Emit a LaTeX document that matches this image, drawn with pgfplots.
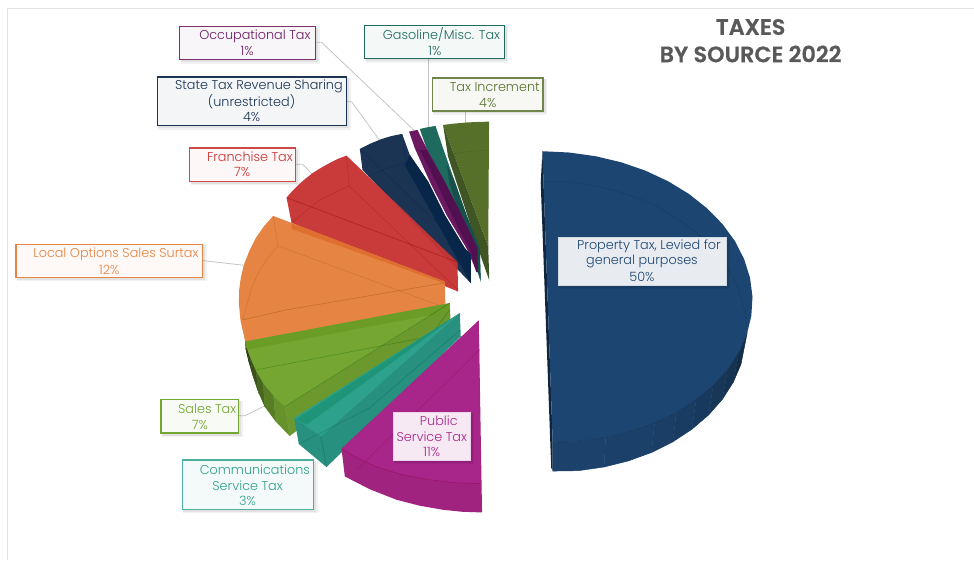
\documentclass[border=0pt]{standalone}
\usepackage{pgfplots}
\pgfplotsset{compat=1.18}
\usepackage{fontspec}
\setmainfont{Poppins Light}[BoldFont=Poppins SemiBold]
\newfontfamily\titlefont{Poppins SemiBold}[FakeBold=0.6]

% palette: slice faces, cut walls and label tints
\definecolor{propT}{HTML}{1D4571}
\definecolor{incT}{HTML}{56702A}
\definecolor{incD}{HTML}{3F5523}
\definecolor{gasT}{HTML}{1F6A5E}
\definecolor{gasD}{HTML}{16504A}
\definecolor{occT}{HTML}{6B1A62}
\definecolor{occD}{HTML}{521050}
\definecolor{navT}{HTML}{1B3454}
\definecolor{navD}{HTML}{08264A}
\definecolor{redT}{HTML}{C73434}
\definecolor{oraT}{HTML}{E58443}
\definecolor{oraB}{HTML}{DE6F2F}
\definecolor{greT}{HTML}{74A631}
\definecolor{greB}{HTML}{6B9C26}
\definecolor{teaT}{HTML}{2DA18B}
\definecolor{teaS}{HTML}{27907E}
\definecolor{teaB}{HTML}{1E9478}
\definecolor{magT}{HTML}{A8258A}
\definecolor{magS}{HTML}{A0237F}
\definecolor{leader}{HTML}{C4C4C4}
\definecolor{frameline}{HTML}{E4E4E4}
\definecolor{titlegray}{HTML}{595959}

% filled polygon, optional opacity
\newcommand{\face}[3][1]{\addplot[fill=#2,draw=none,fill opacity=#1,forget plot] coordinates {#3};}
% opaque rim strip, stroked in its own colour so neighbours close up
\newcommand{\rim}[2]{\addplot[fill=#1,draw=#1,line width=0.5pt,forget plot] coordinates {#2};}
% thin open line
\newcommand{\edge}[3][0.5]{\addplot[draw=#2,line width=0.5pt,draw opacity=#1,forget plot] coordinates {#3};}
% label box with soft shadow: border, fill, x1, y1, x2, y2
\newcommand{\lblbox}[6]{%
  \fill[black,opacity=0.05] (axis cs:#3+1,#4+1) rectangle (axis cs:#5+4,#6+4);
  \fill[black,opacity=0.07] (axis cs:#3+1,#4+1) rectangle (axis cs:#5+2.5,#6+2.5);
  \draw[draw=#1,fill=#2,line width=1.2pt] (axis cs:#3,#4) rectangle (axis cs:#5,#6);}
% one line of label text: colour, centre x, centre y, text
\newcommand{\lbl}[4]{\node[text=#1,inner sep=0pt,font=\fontsize{12.8}{14}\selectfont] at (axis cs:#2,#3) {#4};}

\begin{document}
\begin{tikzpicture}
\begin{axis}[
  at={(0pt,0pt)},anchor=south west,
  width=974pt,height=560pt,scale only axis,
  xmin=0,xmax=974,ymin=0,ymax=560,y dir=reverse,
  hide axis,clip=false]

% sheet outline
\addplot[draw=frameline,line width=1pt,forget plot] coordinates {(8,560)(8,8)(974,8)};

% leader lines
\addplot[draw=leader,line width=0.8pt,forget plot] coordinates {(316.7,42.3)(321.7,42.3)(416,132)};
\addplot[draw=leader,line width=0.8pt,forget plot] coordinates {(428.5,59)(428.5,130)};
\addplot[draw=leader,line width=0.8pt,forget plot] coordinates {(466,111)(466,125)};
\addplot[draw=leader,line width=0.8pt,forget plot] coordinates {(346.7,101.7)(351.7,101.7)(381,142)};
\addplot[draw=leader,line width=0.8pt,forget plot] coordinates {(296,164.3)(302.7,164.3)(316,178)};
\addplot[draw=leader,line width=0.8pt,forget plot] coordinates {(203,260.7)(245,265.5)};
\addplot[draw=leader,line width=0.8pt,forget plot] coordinates {(239,416)(245,416)(267,405)};

% Tax Increment
\face{incT}{(443.3,125)(454,123.7)(466,122.6)(478,122)(489.3,121.7)(488.5,247)}
\face{incD}{(443.3,125)(448.3,156.7)(480,253.3)(489.5,280.5)(488.5,247)}
\edge[0.4]{incD}{(447,155)(470,151.5)(489.5,150)}

% Gasoline / Misc. Tax
\face{gasT}{(420,129)(428,127.3)(435.7,126)(443.3,148.3)(455,181.7)(466.7,215)(480,248.3)(481,281.7)(478.3,272)(473.3,248.3)(455,215)(438.3,181.7)(426.7,148.3)}
\face{gasD}{(447,165)(455,181.7)(466.7,215)(480,248.3)(481,281.7)(478,272)(473,248)(460,215)(450,185)}
% Occupational Tax
\face{occT}{(409.3,131.7)(414,130.7)(417.7,130)(426.7,148.3)(445,181.7)(461.7,215)(477.7,248.3)(478,272.5)(476.7,272.3)(473.3,263.3)(466.7,248.3)(446.7,215)(430,181.7)(415,148.3)}
\face{occD}{(420,150)(426.7,150)(445,181.7)(461.7,215)(477.7,248.3)(478,272)(476.7,272)(470,250)(452,215)(436,181.7)}

% State Tax Revenue Sharing
\face{navT}{(360,149)(371,143.5)(382,139)(392,136)(402.3,134)(410,155)(428.3,181.7)(445,215)(465,248.3)(471,255)(471,283.3)(362.7,170)}
\face{navD}{(410,155)(428.3,181.7)(445,215)(465,248.3)(471,255)(471,283.3)(405,165)}
\edge[0.5]{navD}{(360,149)(471,255)}
\edge[0.5]{navD}{(402.3,134)(406,162.7)(385,169)(368.3,176.7)}

% Franchise Tax
\face[0.97]{redT}{(286.7,197.7)(292.5,191)(299,184.5)(306,178.5)(313,173)(321,168)(330,163)(338,159)(346.7,155.7)(457.7,262.3)(458.3,291.7)(291.7,223)}
\edge[0.45]{red!50!black}{(286.7,197.7)(457.7,262.3)}
\edge[0.25]{red!50!black}{(346.7,155.7)(349.3,186)(458,290)}
\edge[0.25]{red!50!black}{(349.3,186)(320,200)(291.7,223)}

% Local Options Sales Surtax
\face{oraT}{(273.3,216)(264,226.5)(256,238)(249.5,251)(244,265)(241,277.5)(239.3,290)(239,303)(240.5,320)(245.3,341.7)(247,350)(445.7,310)(445,281.7)}
\face{oraB}{(291.7,223.3)(443,281)(445,283.5)(291.7,229)}
\edge[0.25]{orange!60!black}{(273.3,216)(278.3,246)(443.3,307)}
\edge[0.25]{orange!60!black}{(278.3,246)(267,259)(258,274)(251,290)(246.7,306.7)(242.7,320)}
\edge[0.45]{orange!60!black}{(242.7,320)(286.7,310)(445,283)}

% Sales Tax: rim strips lighten from the left
\rim{greT!35!black}{(245.3,341.7)(247.5,349.5)(249,362)(245.7,348)}
\rim{greT!42!black}{(247.5,349.5)(250,356.7)(253.3,376.7)(249,362)}
\rim{greT!50!black}{(250,356.7)(256,370.5)(258.5,392)(253.3,376.7)}
\rim{greT!62!black}{(256,370.5)(263.3,383.3)(265,406.7)(258.5,392)}
\rim{greT!75!black}{(263.3,383.3)(273.5,395.5)(276,421.5)(265,406.7)}
\rim{greT!88!black}{(273.5,395.5)(285,406.7)(290,436)(276,421.5)}
\face{greT!92!black}{(285,406.7)(290,436)(450.7,320)(450,303.3)}
\face{greT}{(245.3,341.7)(247.5,349.5)(250,356.7)(256,370.5)(263.3,383.3)(273.5,395.5)(285,406.7)(450,303.3)}
\face{greB}{(245.3,341.7)(450,303.3)(449.3,311.7)(247,350)}
\edge[0.35]{green!35!black}{(256.7,370)(430,336.7)(450,310)}
\edge[0.45]{green!35!black}{(285,406.7)(450,303.3)}

% Communications Service Tax
\face{teaS}{(294.3,418.3)(299,444.3)(326.7,467.3)(461,336.7)(460,313.3)}
\face{teaT}{(294.3,418.3)(321,436.7)(460,313.3)}
\face{teaB}{(296,419.5)(306.7,425)(450.7,320)(451,319)}
\edge[0.4]{teal!60!black}{(321,436.7)(326.7,467.3)}
\edge[0.3]{teal!60!black}{(299,444.3)(370,408)(460.5,330)}

% Public Service Tax
\face{magS}{(341.7,449)(345,476.7)(370,489.5)(396.7,500)(420,506)(443,510)(462,512)(482.3,512.7)(479,320.7)}
\face{magT}{(341.7,449)(360,459.5)(380,468.3)(405,475.5)(430,480)(455,483)(480.7,484)(479,320.7)}
\edge[0.3]{purple!70!black}{(357,470)(480,350)}
\edge[0.4]{purple!70!black}{(341.7,449)(360,459.5)(380,468.3)(405,475.5)(430,480)(455,483)(480.7,484)}

% Property Tax: rim strips darken to the right, then cut wall and top face
\rim{propT!95!black}{(553,442.7)(579.8,441.4)(605.9,437.7)(604.4,467.2)(578.9,470.9)(553,471.3)}
\rim{propT!93!black}{(605.9,437.7)(631.1,431.6)(654.9,423.2)(651.9,452.7)(628.8,461.1)(604.4,467.2)}
\rim{propT!90!black}{(654.9,423.2)(676.7,412.6)(673.1,442.1)(651.9,452.7)}
\rim{propT!87!black}{(676.7,412.6)(696.5,400)(692.2,429.5)(673.1,442.1)}
\rim{propT!83!black}{(696.5,400)(713.6,385.7)(708.9,415.2)(692.2,429.5)}
\rim{propT!78!black}{(713.6,385.7)(728,369.9)(722.8,399.4)(708.9,415.2)}
\rim{propT!72!black}{(728,369.9)(739.2,352.8)(733.7,382.3)(722.8,399.4)}
\rim{propT!65!black}{(739.2,352.8)(747.2,334.7)(741.4,364.2)(733.7,382.3)}
\face{propT!55!black}{(542.7,151.3)(541,183)(551.5,468)(553,471.3)(553,442.7)}
\face{propT}{(542.7,151.3)(569.6,152.6)(595.9,156.3)(621.6,162.4)(645.9,170.8)(668.6,181.4)(689.2,194)(707.3,208.3)(722.8,224.1)(735.3,241.2)(744.5,259.3)(750.4,278)(752.9,297)(751.7,316)(747.2,334.7)(739.2,352.8)(728,369.9)(713.6,385.7)(696.5,400)(676.7,412.6)(654.9,423.2)(631.1,431.6)(605.9,437.7)(579.8,441.4)(553,442.7)}
\edge[0.5]{propT!60!black}{(553,442.7)(579.8,441.4)(605.9,437.7)(631.1,431.6)(654.9,423.2)(676.7,412.6)(696.5,400)(713.6,385.7)(728,369.9)(739.2,352.8)(747.2,334.7)}
\edge[0.3]{propT!60!black}{(542.7,182)(568.8,182.1)(594.4,185.8)(619.3,191.9)(642.9,200)(665,210.9)(685,223.7)(702.6,237.8)(717.3,253.6)(729.8,270.7)(738.6,288.8)(744.5,307.5)(746.9,326.5)}

% callouts
\lblbox{occT!90!white}{occT!4!white}{179.7}{26.7}{315.7}{59.7}
\lbl{occT}{255}{36}{Occupational Tax}
\lbl{occT}{247.3}{51}{1\%}

\lblbox{gasT}{gasT!5!white}{365}{25.3}{504.7}{58.7}
\lbl{gasT}{441.7}{35}{Gasoline/Misc. Tax}
\lbl{gasT}{435}{51}{1\%}

\lblbox{incT!85!white}{incT!5!white}{432.7}{78}{543.3}{111}
\lbl{incT}{495}{87}{Tax Increment}
\lbl{incT}{488}{103}{4\%}

\lblbox{navT}{navT!5!white}{157.3}{77}{346.7}{125.7}
\lbl{navT}{259}{86}{State Tax Revenue Sharing}
\lbl{navT}{251.7}{102}{(unrestricted)}
\lbl{navT}{251.7}{117}{4\%}

\lblbox{redT!90!white}{redT!4!white}{189.7}{148}{295.7}{181.3}
\lbl{redT}{250}{157}{Franchise Tax}
\lbl{redT}{242.3}{172}{7\%}

\lblbox{oraT}{oraT!5!white}{16}{244.3}{202.7}{277.3}
\lbl{oraT}{116}{254}{Local Options Sales Surtax}
\lbl{oraT}{109.3}{270}{12\%}

\lblbox{greT}{greT!5!white}{161}{400}{239}{433.3}
\lbl{greT}{207.3}{409}{Sales Tax}
\lbl{greT}{200}{425}{7\%}

\lblbox{teaT!85!white}{teaT!5!white}{182.3}{460.3}{313.7}{509.7}
\lbl{teaT}{255}{470}{Communications}
\lbl{teaT}{247.7}{486}{Service Tax}
\lbl{teaT}{247.7}{501}{3\%}

\lblbox{magT!20!white}{magT!10!white}{394}{412.7}{470.7}{460.7}
\lbl{magT}{439}{421}{Public}
\lbl{magT}{432}{437}{Service Tax}
\lbl{magT}{432}{452}{11\%}

\lblbox{propT!20!white}{propT!10!white}{558.7}{237.7}{726.7}{285.3}
\lbl{propT}{649.3}{246}{Property Tax, Levied for}
\lbl{propT}{642.3}{262}{general purposes}
\lbl{propT}{642.3}{277}{50\%}

% chart title
\node[text=titlegray,inner sep=0pt,font=\fontsize{22.3}{26}\titlefont] at (axis cs:751,27) {TAXES};
\node[text=titlegray,inner sep=0pt,font=\fontsize{22.3}{26}\titlefont] at (axis cs:751,54) {BY SOURCE 2022};
\end{axis}
\path[use as bounding box] (0pt,0pt) rectangle (974pt,560pt);
\end{tikzpicture}
\end{document}
